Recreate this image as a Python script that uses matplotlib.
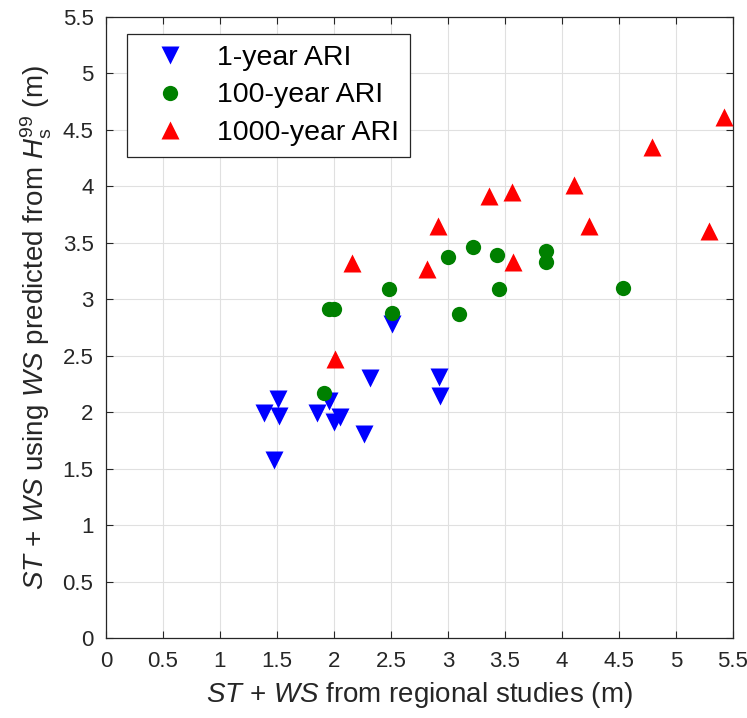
import matplotlib
matplotlib.use("Agg")
from matplotlib import pyplot as plt

plt.rcParams['font.family'] = ['Liberation Sans', 'DejaVu Sans']
plt.rcParams['mathtext.fontset'] = 'custom'
plt.rcParams['mathtext.rm'] = 'Liberation Sans'
plt.rcParams['mathtext.it'] = 'Liberation Sans:italic'

# 1-year ARI
x_1yr = [1.51, 1.39, 1.52, 1.47, 1.85, 1.96, 2.00, 2.05, 2.26, 2.32, 2.51, 2.92, 2.93]
y_1yr = [2.12, 1.99, 1.97, 1.575, 1.99, 2.10, 1.91, 1.96, 1.81, 2.30, 2.78, 2.31, 2.14]
# 100-year ARI
x_100yr = [1.91, 1.96, 2.00, 2.48, 2.51, 3.00, 3.10, 3.22, 3.43, 3.45, 3.86, 3.86, 4.54]
y_100yr = [2.17, 2.91, 2.91, 3.09, 2.88, 3.37, 2.87, 3.46, 3.39, 3.09, 3.43, 3.33, 3.10]
# 1000-year ARI
x_1000yr = [2.01, 2.16, 2.82, 2.91, 3.36, 3.56, 3.57, 4.11, 4.24, 4.79, 5.29, 5.42]
y_1000yr = [2.47, 3.32, 3.27, 3.65, 3.91, 3.95, 3.33, 4.01, 3.65, 4.35, 3.60, 4.61]

series_labels = ['1-year ARI', '100-year ARI', '1000-year ARI']
ticks = [0, 0.5, 1, 1.5, 2, 2.5, 3, 3.5, 4, 4.5, 5, 5.5]
tick_labels = ['0', '0.5', '1', '1.5', '2', '2.5', '3', '3.5', '4', '4.5', '5', '5.5']

fig = plt.figure(figsize=(7.47, 7.18), dpi=100)
ax = fig.add_axes([0.1419, 0.1114, 0.839, 0.865])

ax.plot(x_1yr, y_1yr, 'v', color=(0, 0, 1), ms=13, mec='none', label=series_labels[0], zorder=3)
ax.plot(x_100yr, y_100yr, 'o', color=(0, 0.5, 0), ms=11, mec='none', label=series_labels[1], zorder=3)
ax.plot(x_1000yr, y_1000yr, '^', color=(1, 0, 0), ms=13, mec='none', label=series_labels[2], zorder=3)

ax.set_xlim(0, 5.5)
ax.set_ylim(0, 5.5)
ax.set_xticks(ticks)
ax.set_xticklabels(tick_labels)
ax.set_yticks(ticks)
ax.set_yticklabels(tick_labels)
ax.tick_params(direction='in', top=True, right=True, length=5, width=0.8,
               color='#262626', labelcolor='#262626', labelsize=16, pad=9)
for s in ax.spines.values():
    s.set_color('#262626')
    s.set_linewidth(0.9)
ax.grid(True, color='#e0e0e0', linewidth=0.8)
ax.set_axisbelow(True)

ax.set_xlabel(r'$\mathit{ST}$ + $\mathit{WS}$ from regional studies (m)',
              fontsize=20, color='#262626', labelpad=6)
ax.set_ylabel(r'$\mathit{ST}$ + $\mathit{WS}$ using $\mathit{WS}$ predicted from $\mathit{H}_{\mathrm{s}}^{99}$ (m)',
              fontsize=20, color='#262626', labelpad=6)

leg = ax.legend(loc='upper left', bbox_to_anchor=(0.033, 0.973), fontsize=20.5,
                fancybox=False, framealpha=1, edgecolor='#262626',
                handletextpad=0.5, borderpad=0.38, labelspacing=0.42,
                handlelength=2.3, borderaxespad=0)
leg.get_frame().set_linewidth(0.9)

fig.savefig('out.png', dpi=100)
